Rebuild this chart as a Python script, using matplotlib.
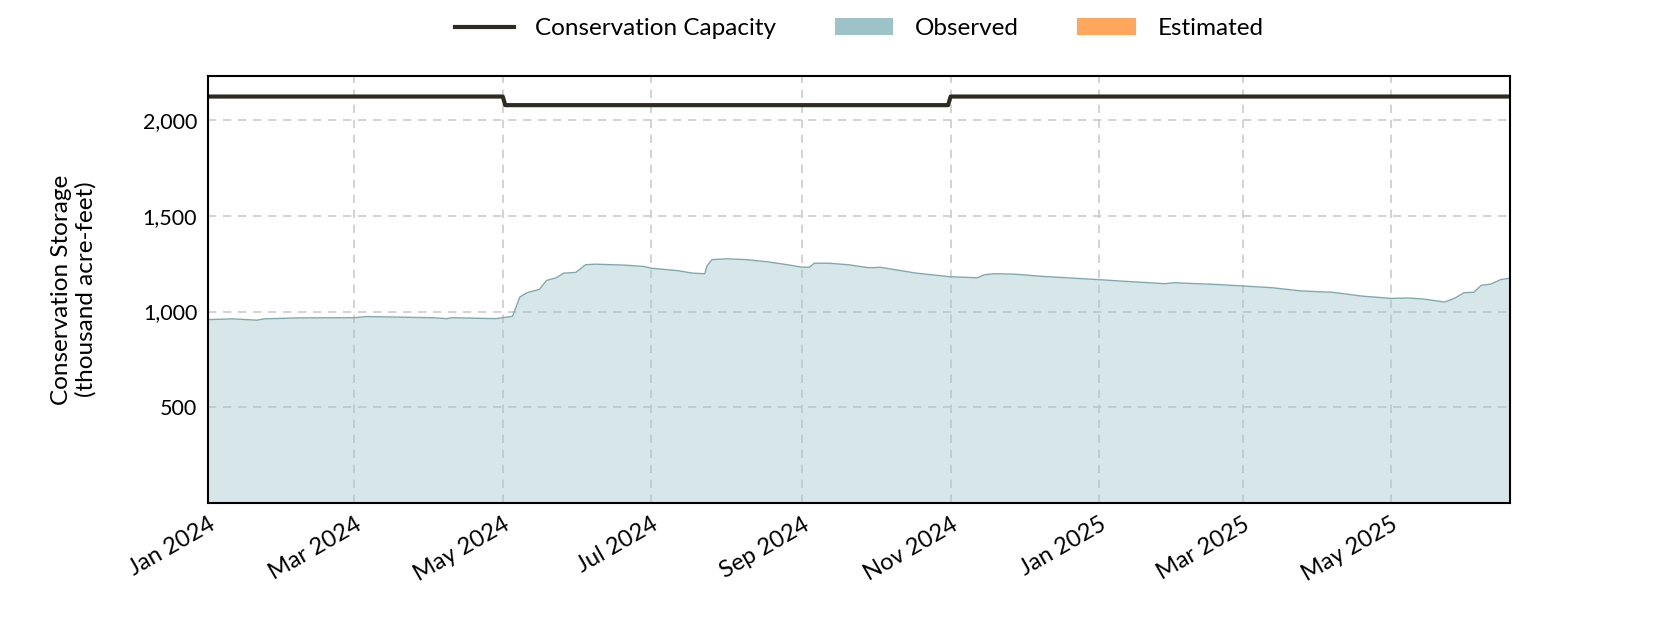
import numpy as np
import pandas as pd
import matplotlib
matplotlib.use("Agg")
import matplotlib.pyplot as plt
import matplotlib.dates as mdates
from matplotlib.lines import Line2D
from matplotlib.patches import Patch
from matplotlib.ticker import FuncFormatter

# --- data ---
obs_dates = [
    "2024-01-01", "2024-01-11", "2024-01-21", "2024-01-24", "2024-02-07",
    "2024-03-01", "2024-03-06", "2024-04-02", "2024-04-08", "2024-04-10",
    "2024-04-28", "2024-05-05", "2024-05-08", "2024-05-11", "2024-05-16",
    "2024-05-19", "2024-05-23", "2024-05-26", "2024-05-31", "2024-06-04",
    "2024-06-08", "2024-06-20", "2024-06-28", "2024-07-01", "2024-07-12",
    "2024-07-18", "2024-07-23", "2024-07-24", "2024-07-26", "2024-08-01",
    "2024-08-09", "2024-08-18", "2024-08-26", "2024-09-01", "2024-09-04",
    "2024-09-06", "2024-09-12", "2024-09-20", "2024-09-28", "2024-10-01",
    "2024-10-03", "2024-10-18", "2024-11-01", "2024-11-12", "2024-11-15",
    "2024-11-19", "2024-11-27", "2024-12-09", "2025-01-01", "2025-01-12",
    "2025-01-28", "2025-02-01", "2025-02-10", "2025-02-18", "2025-03-01",
    "2025-03-13", "2025-03-25", "2025-04-07", "2025-04-19", "2025-05-01",
    "2025-05-08", "2025-05-14", "2025-05-23", "2025-05-27", "2025-05-31",
    "2025-06-04", "2025-06-07", "2025-06-11", "2025-06-15", "2025-06-19",
]
obs_values = [
    958, 962, 955, 962, 967,
    968, 974, 968, 963, 968,
    963, 975, 1076, 1099, 1116,
    1163, 1177, 1201, 1205, 1245,
    1248, 1243, 1236, 1227, 1214,
    1201, 1198, 1241, 1272, 1276,
    1272, 1260, 1245, 1232, 1232,
    1253, 1253, 1245, 1230, 1230,
    1232, 1201, 1182, 1177, 1193,
    1198, 1196, 1184, 1167, 1158,
    1146, 1151, 1146, 1142, 1134,
    1125, 1108, 1101, 1081, 1069,
    1071, 1066, 1050, 1069, 1099,
    1101, 1137, 1144, 1167, 1175,
]

cap_dates = ["2024-01-01", "2024-05-01", "2024-05-02",
             "2024-10-31", "2024-11-01", "2025-06-19"]
cap_values = [2125, 2125, 2080, 2080, 2125, 2125]

obs_x = pd.to_datetime(obs_dates)
cap_x = pd.to_datetime(cap_dates)

# --- styling ---
FONT = ["Lato", "DejaVu Sans"]
plt.rcParams["font.family"] = FONT
plt.rcParams["font.size"] = 17

OBS_COLOR = "#9dc3c9"
EST_COLOR = "#ffa75c"
CAP_COLOR = "#2e2b22"

fig, ax = plt.subplots(figsize=(16.8, 6.3), dpi=100)
fig.subplots_adjust(left=0.124, right=0.899, top=0.879, bottom=0.202)

ax.fill_between(obs_x, 0, obs_values, color=OBS_COLOR, alpha=0.4, lw=0)
ax.plot(obs_x, obs_values, color="#7fa9af", lw=1)
ax.plot(cap_x, cap_values, color=CAP_COLOR, lw=3)

ax.set_xlim(pd.Timestamp("2024-01-01"), pd.Timestamp("2025-06-19"))
ax.set_ylim(0, 2125 * 1.05)
ax.set_yticks([500, 1000, 1500, 2000])
ax.yaxis.set_major_formatter(FuncFormatter(lambda v, p: f"{v:,.0f}"))

ax.xaxis.set_major_locator(mdates.MonthLocator(bymonth=[1, 3, 5, 7, 9, 11]))
ax.xaxis.set_major_formatter(mdates.DateFormatter("%b %Y"))
plt.setp(ax.get_xticklabels(), rotation=30, ha="right", rotation_mode="anchor")

ax.tick_params(axis="x", length=0, labelsize=17, pad=8)
ax.tick_params(axis="y", length=0, labelsize=15.5, pad=8)
ax.grid(True, linestyle="--", color="#cccccc", lw=1.2, dashes=(5, 4))
ax.set_axisbelow(True)
for s in ax.spines.values():
    s.set_linewidth(1.5)
    s.set_color("black")

ax.set_ylabel("Conservation Storage\n(thousand acre-feet)", fontsize=17.5, labelpad=33)

handles = [
    Line2D([0], [0], color=CAP_COLOR, lw=3),
    Patch(facecolor=OBS_COLOR),
    Patch(facecolor=EST_COLOR),
]
labels = ["Conservation Capacity", "Observed", "Estimated"]
ax.legend(handles, labels, loc="lower center", bbox_to_anchor=(0.5, 1.035),
          ncol=3, frameon=False, fontsize=17.5, handlelength=2.4,
          handletextpad=0.9, columnspacing=2.4)

fig.savefig("out.png", dpi=100)
